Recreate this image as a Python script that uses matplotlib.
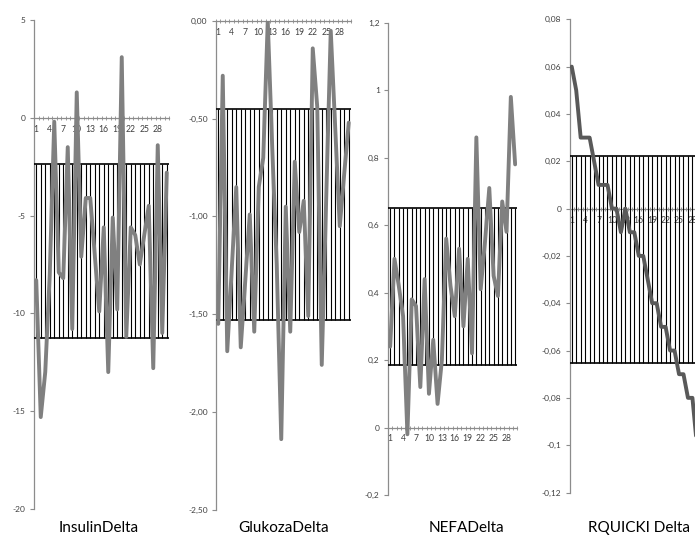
import matplotlib.pyplot as plt
from matplotlib.ticker import FixedLocator

plt.rcParams['font.family'] = ['Lato', 'DejaVu Sans']

categories = list(range(1, 31))
x_labels = [1, 4, 7, 10, 13, 16, 19, 22, 25, 28]

insulin = [-8.3, -15.3, -13.0, -8.0, -0.2, -7.9, -8.2, -1.5, -10.8, 1.3,
           -7.1, -4.1, -4.1, -7.0, -9.9, -5.6, -13.0, -5.1, -9.8, 3.1,
           -11.2, -5.6, -6.0, -7.5, -6.0, -4.5, -12.8, -1.4, -11.0, -2.8]
glukoza = [-1.55, -0.28, -1.69, -1.27, -0.85, -1.67, -1.33, -0.99, -1.59, -0.85,
           -0.70, 0.00, -0.65, -1.25, -2.14, -0.95, -1.59, -0.72, -1.08, -0.92,
           -1.51, -0.14, -0.44, -1.76, -0.90, -0.05, -0.55, -1.05, -0.78, -0.52]
nefa = [0.24, 0.50, 0.42, 0.33, -0.02, 0.38, 0.36, 0.12, 0.44, 0.10,
        0.26, 0.07, 0.20, 0.56, 0.42, 0.33, 0.53, 0.30, 0.50, 0.22,
        0.86, 0.41, 0.55, 0.71, 0.45, 0.39, 0.67, 0.58, 0.98, 0.78]
rquicki = [0.06, 0.05, 0.03, 0.03, 0.03, 0.02, 0.01, 0.01, 0.01, 0.0,
           0.0, -0.01, 0.0, -0.01, -0.01, -0.02, -0.02, -0.03, -0.04, -0.04,
           -0.05, -0.05, -0.06, -0.06, -0.07, -0.07, -0.08, -0.08, -0.10, -0.11]

# lower / upper edge of the hatched band
insulin_band = (-11.25, -2.36)
glukoza_band = (-1.53, -0.45)
nefa_band = (0.184, 0.65)
rquicki_band = (-0.0652, 0.0222)

insulin_yticks = [5, 0, -5, -10, -15, -20]
insulin_ylabels = ['5', '0', '-5', '-10', '-15', '-20']
glukoza_yticks = [0, -0.5, -1, -1.5, -2, -2.5]
glukoza_ylabels = ['0,00', '-0,50', '-1,00', '-1,50', '-2,00', '-2,50']
nefa_yticks = [1.2, 1, 0.8, 0.6, 0.4, 0.2, 0, -0.2]
nefa_ylabels = ['1,2', '1', '0,8', '0,6', '0,4', '0,2', '0', '-0,2']
rquicki_yticks = [0.08, 0.06, 0.04, 0.02, 0, -0.02, -0.04, -0.06, -0.08, -0.1, -0.12]
rquicki_ylabels = ['0,08', '0,06', '0,04', '0,02', '0', '-0,02', '-0,04', '-0,06',
                   '-0,08', '-0,1', '-0,12']

titles = ['InsulinDelta', 'GlukozaDelta', 'NEFADelta', 'RQUICKI Delta']

W, H = 695, 537
fig = plt.figure(figsize=(W / 100, H / 100), dpi=100)

# axes boxes in pixels: left, top, right, bottom
boxes = [(34, 20, 169, 509),
         (216, 21, 351, 509.5),
         (388, 22.7, 517.3, 495),
         (569.5, 19.3, 703.6, 492.5)]
panels = [
    (insulin, insulin_band, insulin_yticks, insulin_ylabels, '#808080'),
    (glukoza, glukoza_band, glukoza_yticks, glukoza_ylabels, '#808080'),
    (nefa, nefa_band, nefa_yticks, nefa_ylabels, '#808080'),
    (rquicki, rquicki_band, rquicki_yticks, rquicki_ylabels, '#595959'),
]
title_x = [99, 284, 466, 639]

for (l, t, r, b), (vals, band, yt, yl, col), tx, title in zip(boxes, panels, title_x, titles):
    ax = fig.add_axes([l / W, 1 - b / H, (r - l) / W, (b - t) / H])
    ax.set_xlim(0.5, 30.5)
    ax.set_ylim(min(yt), max(yt))

    ax.vlines(categories, band[0], band[1], colors='black', lw=0.8, zorder=3)
    ax.hlines(band, 0.5, 30.5, colors='black', lw=1.2, zorder=3)
    ax.plot(categories, vals, color=col, lw=2.8, solid_joinstyle='round',
            solid_capstyle='round', zorder=4)

    for s in ['top', 'right']:
        ax.spines[s].set_visible(False)
    ax.spines['bottom'].set_position(('data', 0))
    for s in ['left', 'bottom']:
        ax.spines[s].set_color('#8c8c8c')
        ax.spines[s].set_linewidth(0.9)

    ax.set_yticks(yt)
    ax.set_yticklabels(yl)
    ax.tick_params(axis='y', length=3, width=0.8, color='#8c8c8c', pad=3,
                   labelsize=6, labelcolor='#404040')

    ax.set_xticks(x_labels)
    ax.set_xticklabels([str(v) for v in x_labels])
    ax.xaxis.set_minor_locator(FixedLocator([c + 0.5 for c in range(0, 31)]))
    ax.tick_params(axis='x', which='major', length=0, pad=5,
                   labelsize=6.2, labelcolor='#404040')
    ax.tick_params(axis='x', which='minor', length=3, width=0.6,
                   direction='inout', color='#8c8c8c')
    ax.patch.set_alpha(0)

    fig.text(tx / W, 1 - 528 / H, title, ha='center', va='center', fontsize=11)

fig.savefig('out.png', dpi=100)
